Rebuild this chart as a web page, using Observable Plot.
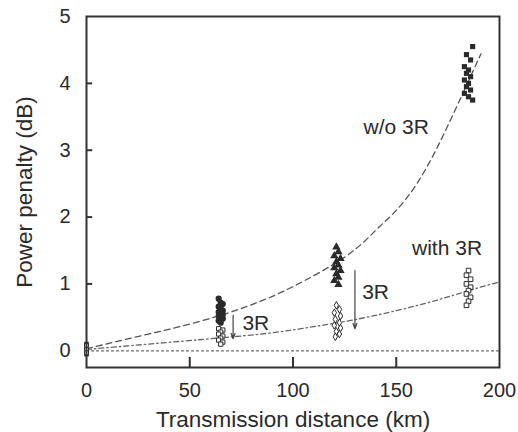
<!DOCTYPE html>
<html>
<head>
<meta charset="utf-8">
<script src="https://cdn.jsdelivr.net/npm/d3@7"></script>
<script src="https://cdn.jsdelivr.net/npm/@observablehq/plot@0.6"></script>
<style>
  html, body { margin: 0; padding: 0; background: #fff; }
  svg { font-family: "Liberation Sans", Arial, sans-serif; }
</style>
</head>
<body>
<div id="chart"></div>
<script>
// Measured points without 3R (filled symbols)
const woCircles = [[64,0.78],[65,0.72],[66,0.70],[64,0.66],[65,0.63],[66,0.60],[64,0.58],[65,0.56],[66,0.54],[64,0.52],[65,0.50],[66,0.48],[64,0.45],[65,0.42]];
const woTriangles = [[121,1.55],[122,1.48],[120,1.42],[123,1.38],[121,1.33],[122,1.28],[120,1.24],[123,1.20],[121,1.15],[122,1.10],[120,1.05],[122,0.99]];
const woSquares = [[187,4.55],[184,4.43],[186,4.35],[183,4.25],[185,4.2],[184,4.15],[186,4.1],[183,4.05],[185,4.0],[184,3.95],[186,3.9],[183,3.85],[185,3.8],[187,3.75]];
const woZero = [[0,0.1],[0,0.05],[0,0.0],[0,-0.05]];
// Measured points with 3R (open symbols)
const wSquares65 = [[64,0.33],[66,0.31],[65,0.28],[64,0.25],[66,0.22],[65,0.19],[64,0.16],[66,0.13],[65,0.10]];
const wDiamonds = [[121,0.68],[122.5,0.62],[120,0.57],[123,0.52],[120.5,0.47],[122.5,0.42],[120,0.38],[123,0.34],[121,0.29],[122.5,0.25],[120.5,0.21]];
const wSquares185 = [[185,1.2],[184,1.13],[186,1.07],[184,1.0],[186,0.95],[185,0.9],[184,0.85],[186,0.8],[185,0.74],[184,0.68]];
const wZero = [[0,0.08],[0,0.02],[0,-0.03]];
// Fitted curves
const curveWo = [[0,0.03],[23,0.2],[45,0.36],[68,0.56],[85,0.75],[100,0.96],[125,1.4],[140,1.8],[150,2.1],[160,2.5],[170,3.05],[180,3.7],[191,4.44]];
const curveW = [[0,0.02],[30,0.1],[60,0.18],[71,0.21],[90,0.27],[110,0.36],[129,0.46],[150,0.6],[170,0.76],[185,0.9],[200,1.03]];
const baseline = [[0,0],[200,0]];
// Annotations
const arrows = [{x:71,y1:0.53,y2:0.18},{x:130,y1:1.2,y2:0.33}];
const labels = [{x:150,y:3.35,t:"w/o 3R"},{x:174.6,y:1.53,t:"with 3R"},{x:82,y:0.41,t:"3R"},{x:140,y:0.87,t:"3R"}];
const xTicks = [0,50,100,150,200];
const yTicks = [0,1,2,3,4,5];
const xInnerTicks = [50,100,150];
const yInnerTicks = [1,2,3,4];

const ink = "#2a2a2a";
const chart = Plot.plot({
  width: 518,
  height: 432,
  marginLeft: 86,
  marginRight: 19,
  marginTop: 16,
  marginBottom: 65,
  style: {fontFamily: "'Liberation Sans', Arial, sans-serif", color: ink, background: "#fff"},
  x: {domain: [0, 200]},
  y: {domain: [-0.25, 5]},
  marks: [
    Plot.line(baseline, {x: d => d[0], y: d => d[1], stroke: "#666", strokeWidth: 1.3, strokeDasharray: "2,3"}),
    Plot.line(curveWo, {x: d => d[0], y: d => d[1], stroke: "#555", strokeWidth: 1.3, strokeDasharray: "6,4", curve: "natural"}),
    Plot.line(curveW, {x: d => d[0], y: d => d[1], stroke: "#666", strokeWidth: 1.3, strokeDasharray: "5,3,1.5,3", curve: "natural"}),
    Plot.dot(woZero, {x: d => d[0], y: d => d[1], symbol: "square", r: 2.6, fill: ink, stroke: null}),
    Plot.dot(wZero, {x: d => d[0], y: d => d[1], symbol: "square", r: 2.2, fill: "#fff", stroke: ink, strokeWidth: 1}),
    Plot.dot(wSquares65, {x: d => d[0], y: d => d[1], symbol: "square", r: 2.4, fill: "#fff", stroke: ink, strokeWidth: 1}),
    Plot.dot(wDiamonds, {x: d => d[0], y: d => d[1], symbol: "diamond", r: 2.3, fill: "#fff", stroke: ink, strokeWidth: 1}),
    Plot.dot(wSquares185, {x: d => d[0], y: d => d[1], symbol: "square", r: 2.6, fill: "#fff", stroke: ink, strokeWidth: 1}),
    Plot.dot(woCircles, {x: d => d[0], y: d => d[1], symbol: "circle", r: 3.1, fill: ink, stroke: null}),
    Plot.dot(woTriangles, {x: d => d[0], y: d => d[1], symbol: "triangle", r: 3.1, fill: ink, stroke: null}),
    Plot.dot(woSquares, {x: d => d[0], y: d => d[1], symbol: "square", r: 2.9, fill: ink, stroke: null}),
    Plot.arrow(arrows, {x1: "x", x2: "x", y1: "y1", y2: "y2", stroke: "#444", strokeWidth: 1.2, headLength: 7, headAngle: 40}),
    Plot.text(labels, {x: "x", y: "y", text: "t", fontSize: 21, fill: ink}),
    Plot.ruleX(xInnerTicks, {x: d => d, y1: -0.25, y2: -0.1, stroke: "#333", strokeWidth: 2}),
    Plot.ruleY(yInnerTicks, {y: d => d, x1: 0, x2: 3, stroke: "#333", strokeWidth: 2}),
    Plot.frame({stroke: "#333", strokeWidth: 2}),
    Plot.axisX(xTicks, {tickSize: 0, tickPadding: 15, fontSize: 20, tickFormat: d3.format("d"), label: "Transmission distance (km)", labelAnchor: "center", labelArrow: false, labelOffset: 59, color: ink}),
    Plot.axisY(yTicks, {tickSize: 0, tickPadding: 16, fontSize: 20, tickFormat: d3.format("d"), label: "Power penalty (dB)", labelAnchor: "center", labelArrow: false, labelOffset: 70, color: ink})
  ]
});
document.getElementById("chart").appendChild(chart);
// larger axis titles
chart.querySelectorAll("[aria-label='x-axis label'] text, [aria-label='y-axis label'] text").forEach(t => t.setAttribute("font-size", "22.5"));
</script>
</body>
</html>
